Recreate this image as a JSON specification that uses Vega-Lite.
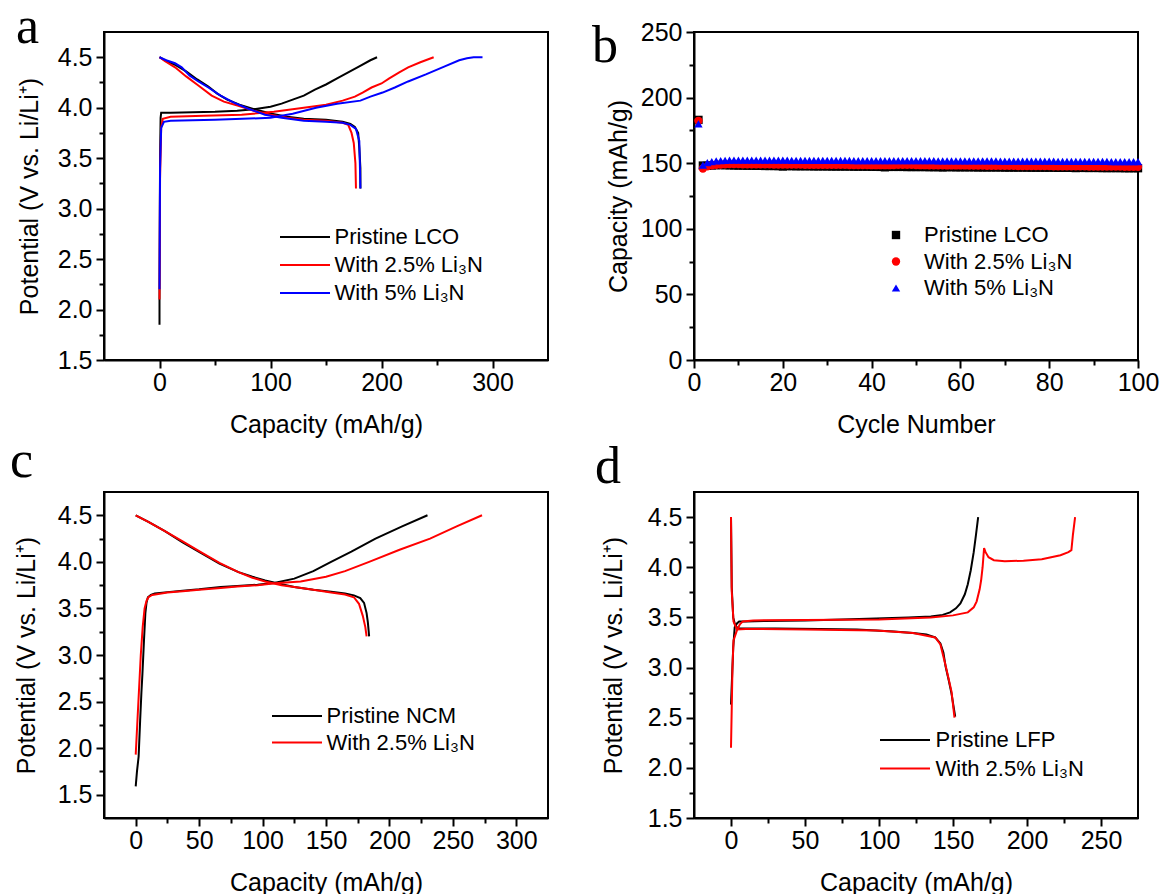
{
"$schema":"https://vega.github.io/schema/vega-lite/v6.json",
"background":"white",
"padding":{"left":9,"top":0,"right":10,"bottom":0},
"bounds":"flush",
"columns":2,
"spacing":{"column":146,"row":132},
"resolve":{"scale":{"x":"independent","y":"independent","color":"independent","shape":"independent"},"legend":{"color":"independent","shape":"independent"}},
"config":{
 "font":"Liberation Sans",
 "view":{"stroke":"#000","strokeWidth":2},
 "axis":{"domainColor":"#000","domainWidth":2,"tickColor":"#000","tickWidth":2,"labelColor":"#000","titleColor":"#000","labelFont":"Liberation Sans","titleFont":"Liberation Sans","labelFontSize":25,"titleFontSize":25,"titleFontWeight":"normal","grid":false,"labelFlush":false,"labelOverlap":false},
 "axisX":{"labelPadding":2,"titlePadding":17},
 "axisY":{"labelPadding":4},
 "legend":{"title":null,"orient":"none","labelFont":"Liberation Sans","labelFontSize":22,"labelColor":"#000"},
 "title":{"font":"Liberation Serif","fontSize":52,"fontWeight":"normal","color":"#000","anchor":"start","frame":"group","offset":0}
},
"concat":[
{
 "title":{"text":"a","dx":-88,"dy":26},
 "width":444,"height":328,
 "data":{"values":[
{"s":"Pristine LCO","k":"c","i":1,"x":0,"y":1.85},{"s":"Pristine LCO","k":"c","i":2,"x":0,"y":2.1},{"s":"Pristine LCO","k":"c","i":3,"x":0.5,"y":3.5},{"s":"Pristine LCO","k":"c","i":4,"x":1,"y":3.9},{"s":"Pristine LCO","k":"c","i":5,"x":1.5,"y":3.95},{"s":"Pristine LCO","k":"c","i":6,"x":10,"y":3.95},{"s":"Pristine LCO","k":"c","i":7,"x":30,"y":3.955},{"s":"Pristine LCO","k":"c","i":8,"x":50,"y":3.96},{"s":"Pristine LCO","k":"c","i":9,"x":70,"y":3.97},{"s":"Pristine LCO","k":"c","i":10,"x":85,"y":3.985},{"s":"Pristine LCO","k":"c","i":11,"x":100,"y":4.01},{"s":"Pristine LCO","k":"c","i":12,"x":110,"y":4.04},{"s":"Pristine LCO","k":"c","i":13,"x":120,"y":4.08},{"s":"Pristine LCO","k":"c","i":14,"x":130,"y":4.12},{"s":"Pristine LCO","k":"c","i":15,"x":140,"y":4.18},{"s":"Pristine LCO","k":"c","i":16,"x":150,"y":4.23},{"s":"Pristine LCO","k":"c","i":17,"x":160,"y":4.29},{"s":"Pristine LCO","k":"c","i":18,"x":170,"y":4.35},{"s":"Pristine LCO","k":"c","i":19,"x":180,"y":4.41},{"s":"Pristine LCO","k":"c","i":20,"x":190,"y":4.47},{"s":"Pristine LCO","k":"c","i":21,"x":196,"y":4.5},
{"s":"Pristine LCO","k":"d","i":1,"x":0,"y":4.5},{"s":"Pristine LCO","k":"d","i":2,"x":5,"y":4.47},{"s":"Pristine LCO","k":"d","i":3,"x":15,"y":4.42},{"s":"Pristine LCO","k":"d","i":4,"x":24,"y":4.36},{"s":"Pristine LCO","k":"d","i":5,"x":34,"y":4.28},{"s":"Pristine LCO","k":"d","i":6,"x":44,"y":4.21},{"s":"Pristine LCO","k":"d","i":7,"x":52,"y":4.14},{"s":"Pristine LCO","k":"d","i":8,"x":61,"y":4.08},{"s":"Pristine LCO","k":"d","i":9,"x":72,"y":4.03},{"s":"Pristine LCO","k":"d","i":10,"x":87,"y":3.98},{"s":"Pristine LCO","k":"d","i":11,"x":101,"y":3.94},{"s":"Pristine LCO","k":"d","i":12,"x":115,"y":3.91},{"s":"Pristine LCO","k":"d","i":13,"x":130,"y":3.89},{"s":"Pristine LCO","k":"d","i":14,"x":150,"y":3.88},{"s":"Pristine LCO","k":"d","i":15,"x":165,"y":3.86},{"s":"Pristine LCO","k":"d","i":16,"x":172,"y":3.84},{"s":"Pristine LCO","k":"d","i":17,"x":176,"y":3.81},{"s":"Pristine LCO","k":"d","i":18,"x":179,"y":3.75},{"s":"Pristine LCO","k":"d","i":19,"x":180,"y":3.6},{"s":"Pristine LCO","k":"d","i":20,"x":181,"y":3.4},{"s":"Pristine LCO","k":"d","i":21,"x":181,"y":3.2},
{"s":"With 2.5% Li₃N","k":"c","i":1,"x":0,"y":2.1},{"s":"With 2.5% Li₃N","k":"c","i":2,"x":0.5,"y":3.3},{"s":"With 2.5% Li₃N","k":"c","i":3,"x":1.5,"y":3.8},{"s":"With 2.5% Li₃N","k":"c","i":4,"x":3,"y":3.89},{"s":"With 2.5% Li₃N","k":"c","i":5,"x":10,"y":3.91},{"s":"With 2.5% Li₃N","k":"c","i":6,"x":40,"y":3.92},{"s":"With 2.5% Li₃N","k":"c","i":7,"x":74,"y":3.93},{"s":"With 2.5% Li₃N","k":"c","i":8,"x":103,"y":3.96},{"s":"With 2.5% Li₃N","k":"c","i":9,"x":130,"y":4.0},{"s":"With 2.5% Li₃N","k":"c","i":10,"x":150,"y":4.03},{"s":"With 2.5% Li₃N","k":"c","i":11,"x":165,"y":4.07},{"s":"With 2.5% Li₃N","k":"c","i":12,"x":176,"y":4.11},{"s":"With 2.5% Li₃N","k":"c","i":13,"x":183,"y":4.15},{"s":"With 2.5% Li₃N","k":"c","i":14,"x":191,"y":4.2},{"s":"With 2.5% Li₃N","k":"c","i":15,"x":200,"y":4.24},{"s":"With 2.5% Li₃N","k":"c","i":16,"x":207,"y":4.29},{"s":"With 2.5% Li₃N","k":"c","i":17,"x":216,"y":4.35},{"s":"With 2.5% Li₃N","k":"c","i":18,"x":224,"y":4.4},{"s":"With 2.5% Li₃N","k":"c","i":19,"x":235,"y":4.45},{"s":"With 2.5% Li₃N","k":"c","i":20,"x":247,"y":4.5},
{"s":"With 2.5% Li₃N","k":"d","i":1,"x":0,"y":4.5},{"s":"With 2.5% Li₃N","k":"d","i":2,"x":5,"y":4.46},{"s":"With 2.5% Li₃N","k":"d","i":3,"x":14,"y":4.4},{"s":"With 2.5% Li₃N","k":"d","i":4,"x":24,"y":4.31},{"s":"With 2.5% Li₃N","k":"d","i":5,"x":35,"y":4.22},{"s":"With 2.5% Li₃N","k":"d","i":6,"x":47,"y":4.12},{"s":"With 2.5% Li₃N","k":"d","i":7,"x":58,"y":4.06},{"s":"With 2.5% Li₃N","k":"d","i":8,"x":71,"y":4.02},{"s":"With 2.5% Li₃N","k":"d","i":9,"x":85,"y":3.97},{"s":"With 2.5% Li₃N","k":"d","i":10,"x":100,"y":3.93},{"s":"With 2.5% Li₃N","k":"d","i":11,"x":115,"y":3.9},{"s":"With 2.5% Li₃N","k":"d","i":12,"x":130,"y":3.88},{"s":"With 2.5% Li₃N","k":"d","i":13,"x":150,"y":3.87},{"s":"With 2.5% Li₃N","k":"d","i":14,"x":165,"y":3.85},{"s":"With 2.5% Li₃N","k":"d","i":15,"x":170,"y":3.83},{"s":"With 2.5% Li₃N","k":"d","i":16,"x":173,"y":3.75},{"s":"With 2.5% Li₃N","k":"d","i":17,"x":175,"y":3.65},{"s":"With 2.5% Li₃N","k":"d","i":18,"x":176.5,"y":3.45},{"s":"With 2.5% Li₃N","k":"d","i":19,"x":177,"y":3.2},
{"s":"With 5% Li₃N","k":"c","i":1,"x":0,"y":2.2},{"s":"With 5% Li₃N","k":"c","i":2,"x":0.5,"y":3.4},{"s":"With 5% Li₃N","k":"c","i":3,"x":1.5,"y":3.8},{"s":"With 5% Li₃N","k":"c","i":4,"x":4,"y":3.86},{"s":"With 5% Li₃N","k":"c","i":5,"x":10,"y":3.87},{"s":"With 5% Li₃N","k":"c","i":6,"x":50,"y":3.88},{"s":"With 5% Li₃N","k":"c","i":7,"x":100,"y":3.9},{"s":"With 5% Li₃N","k":"c","i":8,"x":120,"y":3.94},{"s":"With 5% Li₃N","k":"c","i":9,"x":141,"y":4.0},{"s":"With 5% Li₃N","k":"c","i":10,"x":160,"y":4.04},{"s":"With 5% Li₃N","k":"c","i":11,"x":181,"y":4.07},{"s":"With 5% Li₃N","k":"c","i":12,"x":190,"y":4.11},{"s":"With 5% Li₃N","k":"c","i":13,"x":201,"y":4.15},{"s":"With 5% Li₃N","k":"c","i":14,"x":212,"y":4.2},{"s":"With 5% Li₃N","k":"c","i":15,"x":224,"y":4.26},{"s":"With 5% Li₃N","k":"c","i":16,"x":240,"y":4.33},{"s":"With 5% Li₃N","k":"c","i":17,"x":257,"y":4.41},{"s":"With 5% Li₃N","k":"c","i":18,"x":270,"y":4.47},{"s":"With 5% Li₃N","k":"c","i":19,"x":277,"y":4.49},{"s":"With 5% Li₃N","k":"c","i":20,"x":283,"y":4.5},{"s":"With 5% Li₃N","k":"c","i":21,"x":291,"y":4.5},
{"s":"With 5% Li₃N","k":"d","i":1,"x":0,"y":4.5},{"s":"With 5% Li₃N","k":"d","i":2,"x":6,"y":4.47},{"s":"With 5% Li₃N","k":"d","i":3,"x":14,"y":4.44},{"s":"With 5% Li₃N","k":"d","i":4,"x":20,"y":4.4},{"s":"With 5% Li₃N","k":"d","i":5,"x":27,"y":4.32},{"s":"With 5% Li₃N","k":"d","i":6,"x":35,"y":4.26},{"s":"With 5% Li₃N","k":"d","i":7,"x":44,"y":4.2},{"s":"With 5% Li₃N","k":"d","i":8,"x":55,"y":4.12},{"s":"With 5% Li₃N","k":"d","i":9,"x":67,"y":4.05},{"s":"With 5% Li₃N","k":"d","i":10,"x":80,"y":3.99},{"s":"With 5% Li₃N","k":"d","i":11,"x":95,"y":3.93},{"s":"With 5% Li₃N","k":"d","i":12,"x":110,"y":3.9},{"s":"With 5% Li₃N","k":"d","i":13,"x":130,"y":3.87},{"s":"With 5% Li₃N","k":"d","i":14,"x":150,"y":3.86},{"s":"With 5% Li₃N","k":"d","i":15,"x":165,"y":3.85},{"s":"With 5% Li₃N","k":"d","i":16,"x":172,"y":3.83},{"s":"With 5% Li₃N","k":"d","i":17,"x":177,"y":3.79},{"s":"With 5% Li₃N","k":"d","i":18,"x":180,"y":3.67},{"s":"With 5% Li₃N","k":"d","i":19,"x":180.5,"y":3.45},{"s":"With 5% Li₃N","k":"d","i":20,"x":181,"y":3.2}
 ]},
 "mark":{"type":"line","strokeWidth":2},
 "encoding":{
  "x":{"field":"x","type":"quantitative","scale":{"domain":[-50,350],"nice":false,"zero":false},
   "axis":{"title":"Capacity (mAh/g)","values":[0,50,100,150,200,250,300],"labelExpr":"datum.value % 100 === 0 ? datum.label : ''","tickSize":{"condition":{"test":"datum.value % 100 === 0","value":8},"value":5}}},
  "y":{"field":"y","type":"quantitative","scale":{"domain":[1.5,4.75],"nice":false,"zero":false},
   "axis":{"title":"Potential (V vs. Li/Li⁺)","titlePadding":15,"values":[1.5,1.75,2,2.25,2.5,2.75,3,3.25,3.5,3.75,4,4.25,4.5],"format":".1f","labelExpr":"abs(datum.value*2-round(datum.value*2)) < 0.01 ? datum.label : ''","tickSize":{"condition":{"test":"abs(datum.value*2-round(datum.value*2)) < 0.01","value":8},"value":5}}},
  "color":{"field":"s","type":"nominal","scale":{"domain":["Pristine LCO","With 2.5% Li₃N","With 5% Li₃N"],"range":["#000000","#ff0000","#0000ff"]},
   "legend":{"legendX":176,"legendY":191.5,"symbolType":"M-2,0L2,0","symbolSize":625,"symbolStrokeWidth":2,"symbolOffset":11.5,"labelOffset":16,"rowPadding":3}},
  "detail":{"field":"k"},
  "order":{"field":"i","type":"quantitative"}
 }
},
{
 "title":{"text":"b","dx":-102,"dy":57},
 "width":444,"height":328,
 "data":{"values":[
{"s":"Pristine LCO","n":1,"c":183},{"s":"Pristine LCO","n":2,"c":148.2},{"s":"Pristine LCO","n":3,"c":148.0},{"s":"Pristine LCO","n":4,"c":148.3},{"s":"Pristine LCO","n":5,"c":148.5},{"s":"Pristine LCO","n":6,"c":148.6},{"s":"Pristine LCO","n":7,"c":148.5},{"s":"Pristine LCO","n":8,"c":148.4},{"s":"Pristine LCO","n":9,"c":148.3},{"s":"Pristine LCO","n":10,"c":148.2},
{"s":"Pristine LCO","n":11,"c":148.2},{"s":"Pristine LCO","n":12,"c":148.1},{"s":"Pristine LCO","n":13,"c":148.1},{"s":"Pristine LCO","n":14,"c":148.0},{"s":"Pristine LCO","n":15,"c":148.0},{"s":"Pristine LCO","n":16,"c":147.9},{"s":"Pristine LCO","n":17,"c":147.9},{"s":"Pristine LCO","n":18,"c":147.9},{"s":"Pristine LCO","n":19,"c":147.8},{"s":"Pristine LCO","n":20,"c":147.5},
{"s":"Pristine LCO","n":21,"c":147.8},{"s":"Pristine LCO","n":22,"c":147.8},{"s":"Pristine LCO","n":23,"c":147.7},{"s":"Pristine LCO","n":24,"c":147.7},{"s":"Pristine LCO","n":25,"c":147.7},{"s":"Pristine LCO","n":26,"c":147.7},{"s":"Pristine LCO","n":27,"c":147.6},{"s":"Pristine LCO","n":28,"c":147.6},{"s":"Pristine LCO","n":29,"c":147.6},{"s":"Pristine LCO","n":30,"c":147.6},
{"s":"Pristine LCO","n":31,"c":147.5},{"s":"Pristine LCO","n":32,"c":147.5},{"s":"Pristine LCO","n":33,"c":147.5},{"s":"Pristine LCO","n":34,"c":147.5},{"s":"Pristine LCO","n":35,"c":147.5},{"s":"Pristine LCO","n":36,"c":147.4},{"s":"Pristine LCO","n":37,"c":147.4},{"s":"Pristine LCO","n":38,"c":147.4},{"s":"Pristine LCO","n":39,"c":147.4},{"s":"Pristine LCO","n":40,"c":147.3},
{"s":"Pristine LCO","n":41,"c":147.3},{"s":"Pristine LCO","n":42,"c":147.2},{"s":"Pristine LCO","n":43,"c":146.9},{"s":"Pristine LCO","n":44,"c":147.2},{"s":"Pristine LCO","n":45,"c":147.2},{"s":"Pristine LCO","n":46,"c":147.2},{"s":"Pristine LCO","n":47,"c":147.2},{"s":"Pristine LCO","n":48,"c":147.1},{"s":"Pristine LCO","n":49,"c":147.1},{"s":"Pristine LCO","n":50,"c":147.1},
{"s":"Pristine LCO","n":51,"c":147.1},{"s":"Pristine LCO","n":52,"c":147.1},{"s":"Pristine LCO","n":53,"c":147.0},{"s":"Pristine LCO","n":54,"c":147.0},{"s":"Pristine LCO","n":55,"c":147.0},{"s":"Pristine LCO","n":56,"c":146.8},{"s":"Pristine LCO","n":57,"c":147.0},{"s":"Pristine LCO","n":58,"c":147.0},{"s":"Pristine LCO","n":59,"c":146.9},{"s":"Pristine LCO","n":60,"c":146.9},
{"s":"Pristine LCO","n":61,"c":146.9},{"s":"Pristine LCO","n":62,"c":146.9},{"s":"Pristine LCO","n":63,"c":146.9},{"s":"Pristine LCO","n":64,"c":146.8},{"s":"Pristine LCO","n":65,"c":146.8},{"s":"Pristine LCO","n":66,"c":146.8},{"s":"Pristine LCO","n":67,"c":146.8},{"s":"Pristine LCO","n":68,"c":146.8},{"s":"Pristine LCO","n":69,"c":146.8},{"s":"Pristine LCO","n":70,"c":146.7},
{"s":"Pristine LCO","n":71,"c":146.7},{"s":"Pristine LCO","n":72,"c":146.7},{"s":"Pristine LCO","n":73,"c":146.7},{"s":"Pristine LCO","n":74,"c":146.7},{"s":"Pristine LCO","n":75,"c":146.7},{"s":"Pristine LCO","n":76,"c":146.6},{"s":"Pristine LCO","n":77,"c":146.6},{"s":"Pristine LCO","n":78,"c":146.6},{"s":"Pristine LCO","n":79,"c":146.6},{"s":"Pristine LCO","n":80,"c":146.6},
{"s":"Pristine LCO","n":81,"c":146.6},{"s":"Pristine LCO","n":82,"c":146.5},{"s":"Pristine LCO","n":83,"c":146.5},{"s":"Pristine LCO","n":84,"c":146.5},{"s":"Pristine LCO","n":85,"c":146.5},{"s":"Pristine LCO","n":86,"c":146.3},{"s":"Pristine LCO","n":87,"c":146.5},{"s":"Pristine LCO","n":88,"c":146.4},{"s":"Pristine LCO","n":89,"c":146.4},{"s":"Pristine LCO","n":90,"c":146.4},
{"s":"Pristine LCO","n":91,"c":146.4},{"s":"Pristine LCO","n":92,"c":146.3},{"s":"Pristine LCO","n":93,"c":146.3},{"s":"Pristine LCO","n":94,"c":146.3},{"s":"Pristine LCO","n":95,"c":146.3},{"s":"Pristine LCO","n":96,"c":146.3},{"s":"Pristine LCO","n":97,"c":146.2},{"s":"Pristine LCO","n":98,"c":146.2},{"s":"Pristine LCO","n":99,"c":146.2},{"s":"Pristine LCO","n":100,"c":146.2},
{"s":"With 2.5% Li₃N","n":1,"c":182.3},{"s":"With 2.5% Li₃N","n":2,"c":146.0},{"s":"With 2.5% Li₃N","n":3,"c":147.6},{"s":"With 2.5% Li₃N","n":4,"c":148.4},{"s":"With 2.5% Li₃N","n":5,"c":148.8},{"s":"With 2.5% Li₃N","n":6,"c":149.0},{"s":"With 2.5% Li₃N","n":7,"c":149.2},{"s":"With 2.5% Li₃N","n":8,"c":149.3},{"s":"With 2.5% Li₃N","n":9,"c":149.3},{"s":"With 2.5% Li₃N","n":10,"c":149.3},
{"s":"With 2.5% Li₃N","n":11,"c":149.2},{"s":"With 2.5% Li₃N","n":12,"c":149.2},{"s":"With 2.5% Li₃N","n":13,"c":149.2},{"s":"With 2.5% Li₃N","n":14,"c":149.2},{"s":"With 2.5% Li₃N","n":15,"c":149.1},{"s":"With 2.5% Li₃N","n":16,"c":149.1},{"s":"With 2.5% Li₃N","n":17,"c":149.1},{"s":"With 2.5% Li₃N","n":18,"c":149.0},{"s":"With 2.5% Li₃N","n":19,"c":149.0},{"s":"With 2.5% Li₃N","n":20,"c":149.0},
{"s":"With 2.5% Li₃N","n":21,"c":148.9},{"s":"With 2.5% Li₃N","n":22,"c":148.9},{"s":"With 2.5% Li₃N","n":23,"c":148.9},{"s":"With 2.5% Li₃N","n":24,"c":148.9},{"s":"With 2.5% Li₃N","n":25,"c":148.8},{"s":"With 2.5% Li₃N","n":26,"c":148.8},{"s":"With 2.5% Li₃N","n":27,"c":148.8},{"s":"With 2.5% Li₃N","n":28,"c":148.8},{"s":"With 2.5% Li₃N","n":29,"c":148.8},{"s":"With 2.5% Li₃N","n":30,"c":148.7},
{"s":"With 2.5% Li₃N","n":31,"c":148.7},{"s":"With 2.5% Li₃N","n":32,"c":148.7},{"s":"With 2.5% Li₃N","n":33,"c":148.7},{"s":"With 2.5% Li₃N","n":34,"c":148.7},{"s":"With 2.5% Li₃N","n":35,"c":148.6},{"s":"With 2.5% Li₃N","n":36,"c":148.6},{"s":"With 2.5% Li₃N","n":37,"c":148.6},{"s":"With 2.5% Li₃N","n":38,"c":148.6},{"s":"With 2.5% Li₃N","n":39,"c":148.6},{"s":"With 2.5% Li₃N","n":40,"c":148.5},
{"s":"With 2.5% Li₃N","n":41,"c":148.5},{"s":"With 2.5% Li₃N","n":42,"c":148.5},{"s":"With 2.5% Li₃N","n":43,"c":148.5},{"s":"With 2.5% Li₃N","n":44,"c":148.5},{"s":"With 2.5% Li₃N","n":45,"c":148.6},{"s":"With 2.5% Li₃N","n":46,"c":148.7},{"s":"With 2.5% Li₃N","n":47,"c":148.8},{"s":"With 2.5% Li₃N","n":48,"c":148.8},{"s":"With 2.5% Li₃N","n":49,"c":148.7},{"s":"With 2.5% Li₃N","n":50,"c":148.6},
{"s":"With 2.5% Li₃N","n":51,"c":148.5},{"s":"With 2.5% Li₃N","n":52,"c":148.5},{"s":"With 2.5% Li₃N","n":53,"c":148.4},{"s":"With 2.5% Li₃N","n":54,"c":148.4},{"s":"With 2.5% Li₃N","n":55,"c":148.4},{"s":"With 2.5% Li₃N","n":56,"c":148.4},{"s":"With 2.5% Li₃N","n":57,"c":148.3},{"s":"With 2.5% Li₃N","n":58,"c":148.3},{"s":"With 2.5% Li₃N","n":59,"c":148.3},{"s":"With 2.5% Li₃N","n":60,"c":148.3},
{"s":"With 2.5% Li₃N","n":61,"c":148.3},{"s":"With 2.5% Li₃N","n":62,"c":148.2},{"s":"With 2.5% Li₃N","n":63,"c":148.2},{"s":"With 2.5% Li₃N","n":64,"c":148.2},{"s":"With 2.5% Li₃N","n":65,"c":148.2},{"s":"With 2.5% Li₃N","n":66,"c":148.1},{"s":"With 2.5% Li₃N","n":67,"c":148.1},{"s":"With 2.5% Li₃N","n":68,"c":148.1},{"s":"With 2.5% Li₃N","n":69,"c":148.1},{"s":"With 2.5% Li₃N","n":70,"c":148.0},
{"s":"With 2.5% Li₃N","n":71,"c":148.0},{"s":"With 2.5% Li₃N","n":72,"c":148.0},{"s":"With 2.5% Li₃N","n":73,"c":147.9},{"s":"With 2.5% Li₃N","n":74,"c":147.9},{"s":"With 2.5% Li₃N","n":75,"c":147.9},{"s":"With 2.5% Li₃N","n":76,"c":147.9},{"s":"With 2.5% Li₃N","n":77,"c":147.8},{"s":"With 2.5% Li₃N","n":78,"c":147.8},{"s":"With 2.5% Li₃N","n":79,"c":147.8},{"s":"With 2.5% Li₃N","n":80,"c":147.8},
{"s":"With 2.5% Li₃N","n":81,"c":147.7},{"s":"With 2.5% Li₃N","n":82,"c":147.7},{"s":"With 2.5% Li₃N","n":83,"c":147.7},{"s":"With 2.5% Li₃N","n":84,"c":147.7},{"s":"With 2.5% Li₃N","n":85,"c":147.6},{"s":"With 2.5% Li₃N","n":86,"c":147.6},{"s":"With 2.5% Li₃N","n":87,"c":147.6},{"s":"With 2.5% Li₃N","n":88,"c":147.6},{"s":"With 2.5% Li₃N","n":89,"c":147.5},{"s":"With 2.5% Li₃N","n":90,"c":147.5},
{"s":"With 2.5% Li₃N","n":91,"c":147.5},{"s":"With 2.5% Li₃N","n":92,"c":147.5},{"s":"With 2.5% Li₃N","n":93,"c":147.4},{"s":"With 2.5% Li₃N","n":94,"c":147.4},{"s":"With 2.5% Li₃N","n":95,"c":147.4},{"s":"With 2.5% Li₃N","n":96,"c":147.4},{"s":"With 2.5% Li₃N","n":97,"c":147.3},{"s":"With 2.5% Li₃N","n":98,"c":147.3},{"s":"With 2.5% Li₃N","n":99,"c":147.3},{"s":"With 2.5% Li₃N","n":100,"c":147.3},
{"s":"With 5% Li₃N","n":1,"c":180.0},{"s":"With 5% Li₃N","n":2,"c":148.5},{"s":"With 5% Li₃N","n":3,"c":150.4},{"s":"With 5% Li₃N","n":4,"c":151.2},{"s":"With 5% Li₃N","n":5,"c":151.7},{"s":"With 5% Li₃N","n":6,"c":152.0},{"s":"With 5% Li₃N","n":7,"c":152.2},{"s":"With 5% Li₃N","n":8,"c":152.3},{"s":"With 5% Li₃N","n":9,"c":152.4},{"s":"With 5% Li₃N","n":10,"c":152.4},
{"s":"With 5% Li₃N","n":11,"c":152.4},{"s":"With 5% Li₃N","n":12,"c":152.4},{"s":"With 5% Li₃N","n":13,"c":152.4},{"s":"With 5% Li₃N","n":14,"c":152.4},{"s":"With 5% Li₃N","n":15,"c":152.3},{"s":"With 5% Li₃N","n":16,"c":152.3},{"s":"With 5% Li₃N","n":17,"c":152.3},{"s":"With 5% Li₃N","n":18,"c":152.3},{"s":"With 5% Li₃N","n":19,"c":152.3},{"s":"With 5% Li₃N","n":20,"c":152.3},
{"s":"With 5% Li₃N","n":21,"c":152.3},{"s":"With 5% Li₃N","n":22,"c":152.2},{"s":"With 5% Li₃N","n":23,"c":152.2},{"s":"With 5% Li₃N","n":24,"c":152.2},{"s":"With 5% Li₃N","n":25,"c":152.2},{"s":"With 5% Li₃N","n":26,"c":152.2},{"s":"With 5% Li₃N","n":27,"c":152.2},{"s":"With 5% Li₃N","n":28,"c":152.2},{"s":"With 5% Li₃N","n":29,"c":152.1},{"s":"With 5% Li₃N","n":30,"c":152.1},
{"s":"With 5% Li₃N","n":31,"c":152.1},{"s":"With 5% Li₃N","n":32,"c":152.1},{"s":"With 5% Li₃N","n":33,"c":152.1},{"s":"With 5% Li₃N","n":34,"c":152.1},{"s":"With 5% Li₃N","n":35,"c":152.1},{"s":"With 5% Li₃N","n":36,"c":152.0},{"s":"With 5% Li₃N","n":37,"c":152.0},{"s":"With 5% Li₃N","n":38,"c":152.0},{"s":"With 5% Li₃N","n":39,"c":152.0},{"s":"With 5% Li₃N","n":40,"c":152.0},
{"s":"With 5% Li₃N","n":41,"c":152.0},{"s":"With 5% Li₃N","n":42,"c":151.9},{"s":"With 5% Li₃N","n":43,"c":151.9},{"s":"With 5% Li₃N","n":44,"c":151.9},{"s":"With 5% Li₃N","n":45,"c":151.9},{"s":"With 5% Li₃N","n":46,"c":151.9},{"s":"With 5% Li₃N","n":47,"c":151.9},{"s":"With 5% Li₃N","n":48,"c":152.0},{"s":"With 5% Li₃N","n":49,"c":152.0},{"s":"With 5% Li₃N","n":50,"c":152.0},
{"s":"With 5% Li₃N","n":51,"c":151.9},{"s":"With 5% Li₃N","n":52,"c":151.9},{"s":"With 5% Li₃N","n":53,"c":151.9},{"s":"With 5% Li₃N","n":54,"c":151.9},{"s":"With 5% Li₃N","n":55,"c":151.8},{"s":"With 5% Li₃N","n":56,"c":151.8},{"s":"With 5% Li₃N","n":57,"c":151.8},{"s":"With 5% Li₃N","n":58,"c":151.8},{"s":"With 5% Li₃N","n":59,"c":151.8},{"s":"With 5% Li₃N","n":60,"c":151.8},
{"s":"With 5% Li₃N","n":61,"c":151.8},{"s":"With 5% Li₃N","n":62,"c":151.7},{"s":"With 5% Li₃N","n":63,"c":151.7},{"s":"With 5% Li₃N","n":64,"c":151.7},{"s":"With 5% Li₃N","n":65,"c":151.7},{"s":"With 5% Li₃N","n":66,"c":151.7},{"s":"With 5% Li₃N","n":67,"c":151.7},{"s":"With 5% Li₃N","n":68,"c":151.7},{"s":"With 5% Li₃N","n":69,"c":151.6},{"s":"With 5% Li₃N","n":70,"c":151.6},
{"s":"With 5% Li₃N","n":71,"c":151.6},{"s":"With 5% Li₃N","n":72,"c":151.6},{"s":"With 5% Li₃N","n":73,"c":151.6},{"s":"With 5% Li₃N","n":74,"c":151.6},{"s":"With 5% Li₃N","n":75,"c":151.5},{"s":"With 5% Li₃N","n":76,"c":151.5},{"s":"With 5% Li₃N","n":77,"c":151.5},{"s":"With 5% Li₃N","n":78,"c":151.5},{"s":"With 5% Li₃N","n":79,"c":151.5},{"s":"With 5% Li₃N","n":80,"c":151.5},
{"s":"With 5% Li₃N","n":81,"c":151.5},{"s":"With 5% Li₃N","n":82,"c":151.4},{"s":"With 5% Li₃N","n":83,"c":151.4},{"s":"With 5% Li₃N","n":84,"c":151.4},{"s":"With 5% Li₃N","n":85,"c":151.4},{"s":"With 5% Li₃N","n":86,"c":151.4},{"s":"With 5% Li₃N","n":87,"c":151.4},{"s":"With 5% Li₃N","n":88,"c":151.3},{"s":"With 5% Li₃N","n":89,"c":151.3},{"s":"With 5% Li₃N","n":90,"c":151.3},
{"s":"With 5% Li₃N","n":91,"c":151.3},{"s":"With 5% Li₃N","n":92,"c":151.3},{"s":"With 5% Li₃N","n":93,"c":151.3},{"s":"With 5% Li₃N","n":94,"c":151.2},{"s":"With 5% Li₃N","n":95,"c":151.2},{"s":"With 5% Li₃N","n":96,"c":151.2},{"s":"With 5% Li₃N","n":97,"c":151.2},{"s":"With 5% Li₃N","n":98,"c":151.2},{"s":"With 5% Li₃N","n":99,"c":151.2},{"s":"With 5% Li₃N","n":100,"c":151.2}
 ]},
 "mark":{"type":"point","filled":true,"size":70,"opacity":1},
 "encoding":{
  "x":{"field":"n","type":"quantitative","scale":{"domain":[0,100],"nice":false,"zero":false},
   "axis":{"title":"Cycle Number","values":[0,10,20,30,40,50,60,70,80,90,100],"labelExpr":"datum.value % 20 === 0 ? datum.label : ''","tickSize":{"condition":{"test":"datum.value % 20 === 0","value":8},"value":5}}},
  "y":{"field":"c","type":"quantitative","scale":{"domain":[0,250],"nice":false,"zero":false},
   "axis":{"title":"Capacity (mAh/g)","titlePadding":9,"values":[0,25,50,75,100,125,150,175,200,225,250],"labelExpr":"datum.value % 50 === 0 ? datum.label : ''","tickSize":{"condition":{"test":"datum.value % 50 === 0","value":8},"value":5}}},
  "color":{"field":"s","type":"nominal","scale":{"domain":["Pristine LCO","With 2.5% Li₃N","With 5% Li₃N"],"range":["#000000","#ff0000","#0000ff"]},
   "legend":{"legendX":191,"legendY":192,"symbolSize":70,"labelOffset":17,"rowPadding":4.5}},
  "shape":{"field":"s","type":"nominal","scale":{"domain":["Pristine LCO","With 2.5% Li₃N","With 5% Li₃N"],"range":["square","circle","triangle-up"]}}
 }
},
{
 "title":{"text":"c","dx":-94,"dy":0},
 "width":444,"height":326,
 "data":{"values":[
{"s":"Pristine NCM","k":"c","i":1,"x":0,"y":1.59},{"s":"Pristine NCM","k":"c","i":2,"x":1,"y":1.75},{"s":"Pristine NCM","k":"c","i":3,"x":2.3,"y":1.91},{"s":"Pristine NCM","k":"c","i":4,"x":3.5,"y":2.3},{"s":"Pristine NCM","k":"c","i":5,"x":4.5,"y":2.6},{"s":"Pristine NCM","k":"c","i":6,"x":5.3,"y":2.8},{"s":"Pristine NCM","k":"c","i":7,"x":6.5,"y":3.15},{"s":"Pristine NCM","k":"c","i":8,"x":7.6,"y":3.45},{"s":"Pristine NCM","k":"c","i":9,"x":8.5,"y":3.56},{"s":"Pristine NCM","k":"c","i":10,"x":9.6,"y":3.62},{"s":"Pristine NCM","k":"c","i":11,"x":12,"y":3.645},{"s":"Pristine NCM","k":"c","i":12,"x":15,"y":3.66},{"s":"Pristine NCM","k":"c","i":13,"x":25,"y":3.675},{"s":"Pristine NCM","k":"c","i":14,"x":37,"y":3.69},{"s":"Pristine NCM","k":"c","i":15,"x":50,"y":3.705},{"s":"Pristine NCM","k":"c","i":16,"x":67,"y":3.73},{"s":"Pristine NCM","k":"c","i":17,"x":80,"y":3.74},{"s":"Pristine NCM","k":"c","i":18,"x":96,"y":3.755},{"s":"Pristine NCM","k":"c","i":19,"x":110,"y":3.775},{"s":"Pristine NCM","k":"c","i":20,"x":125,"y":3.82},{"s":"Pristine NCM","k":"c","i":21,"x":140,"y":3.9},{"s":"Pristine NCM","k":"c","i":22,"x":154,"y":4.0},{"s":"Pristine NCM","k":"c","i":23,"x":170,"y":4.11},{"s":"Pristine NCM","k":"c","i":24,"x":189,"y":4.25},{"s":"Pristine NCM","k":"c","i":25,"x":210,"y":4.38},{"s":"Pristine NCM","k":"c","i":26,"x":230,"y":4.5},
{"s":"Pristine NCM","k":"d","i":1,"x":0,"y":4.5},{"s":"Pristine NCM","k":"d","i":2,"x":10,"y":4.43},{"s":"Pristine NCM","k":"d","i":3,"x":23,"y":4.33},{"s":"Pristine NCM","k":"d","i":4,"x":37,"y":4.21},{"s":"Pristine NCM","k":"d","i":5,"x":52,"y":4.09},{"s":"Pristine NCM","k":"d","i":6,"x":66,"y":3.98},{"s":"Pristine NCM","k":"d","i":7,"x":81,"y":3.89},{"s":"Pristine NCM","k":"d","i":8,"x":92,"y":3.84},{"s":"Pristine NCM","k":"d","i":9,"x":102,"y":3.8},{"s":"Pristine NCM","k":"d","i":10,"x":115,"y":3.76},{"s":"Pristine NCM","k":"d","i":11,"x":125,"y":3.73},{"s":"Pristine NCM","k":"d","i":12,"x":140,"y":3.7},{"s":"Pristine NCM","k":"d","i":13,"x":154,"y":3.68},{"s":"Pristine NCM","k":"d","i":14,"x":165,"y":3.66},{"s":"Pristine NCM","k":"d","i":15,"x":172,"y":3.64},{"s":"Pristine NCM","k":"d","i":16,"x":177,"y":3.61},{"s":"Pristine NCM","k":"d","i":17,"x":180,"y":3.56},{"s":"Pristine NCM","k":"d","i":18,"x":182,"y":3.45},{"s":"Pristine NCM","k":"d","i":19,"x":183,"y":3.35},{"s":"Pristine NCM","k":"d","i":20,"x":184,"y":3.2},
{"s":"With 2.5% Li₃N","k":"c","i":1,"x":0,"y":1.93},{"s":"With 2.5% Li₃N","k":"c","i":2,"x":1,"y":2.2},{"s":"With 2.5% Li₃N","k":"c","i":3,"x":2.5,"y":2.6},{"s":"With 2.5% Li₃N","k":"c","i":4,"x":4,"y":3.0},{"s":"With 2.5% Li₃N","k":"c","i":5,"x":5.5,"y":3.3},{"s":"With 2.5% Li₃N","k":"c","i":6,"x":7,"y":3.5},{"s":"With 2.5% Li₃N","k":"c","i":7,"x":8.5,"y":3.58},{"s":"With 2.5% Li₃N","k":"c","i":8,"x":10,"y":3.62},{"s":"With 2.5% Li₃N","k":"c","i":9,"x":13,"y":3.645},{"s":"With 2.5% Li₃N","k":"c","i":10,"x":25,"y":3.67},{"s":"With 2.5% Li₃N","k":"c","i":11,"x":37,"y":3.685},{"s":"With 2.5% Li₃N","k":"c","i":12,"x":50,"y":3.7},{"s":"With 2.5% Li₃N","k":"c","i":13,"x":67,"y":3.72},{"s":"With 2.5% Li₃N","k":"c","i":14,"x":80,"y":3.735},{"s":"With 2.5% Li₃N","k":"c","i":15,"x":96,"y":3.75},{"s":"With 2.5% Li₃N","k":"c","i":16,"x":110,"y":3.77},{"s":"With 2.5% Li₃N","k":"c","i":17,"x":130,"y":3.79},{"s":"With 2.5% Li₃N","k":"c","i":18,"x":150,"y":3.84},{"s":"With 2.5% Li₃N","k":"c","i":19,"x":165,"y":3.9},{"s":"With 2.5% Li₃N","k":"c","i":20,"x":184,"y":4.0},{"s":"With 2.5% Li₃N","k":"c","i":21,"x":208,"y":4.13},{"s":"With 2.5% Li₃N","k":"c","i":22,"x":232,"y":4.25},{"s":"With 2.5% Li₃N","k":"c","i":23,"x":253,"y":4.38},{"s":"With 2.5% Li₃N","k":"c","i":24,"x":273,"y":4.5},
{"s":"With 2.5% Li₃N","k":"d","i":1,"x":0,"y":4.5},{"s":"With 2.5% Li₃N","k":"d","i":2,"x":10,"y":4.43},{"s":"With 2.5% Li₃N","k":"d","i":3,"x":23,"y":4.33},{"s":"With 2.5% Li₃N","k":"d","i":4,"x":37,"y":4.22},{"s":"With 2.5% Li₃N","k":"d","i":5,"x":52,"y":4.1},{"s":"With 2.5% Li₃N","k":"d","i":6,"x":66,"y":3.99},{"s":"With 2.5% Li₃N","k":"d","i":7,"x":81,"y":3.89},{"s":"With 2.5% Li₃N","k":"d","i":8,"x":92,"y":3.83},{"s":"With 2.5% Li₃N","k":"d","i":9,"x":102,"y":3.79},{"s":"With 2.5% Li₃N","k":"d","i":10,"x":115,"y":3.75},{"s":"With 2.5% Li₃N","k":"d","i":11,"x":125,"y":3.73},{"s":"With 2.5% Li₃N","k":"d","i":12,"x":140,"y":3.7},{"s":"With 2.5% Li₃N","k":"d","i":13,"x":154,"y":3.67},{"s":"With 2.5% Li₃N","k":"d","i":14,"x":165,"y":3.65},{"s":"With 2.5% Li₃N","k":"d","i":15,"x":172,"y":3.62},{"s":"With 2.5% Li₃N","k":"d","i":16,"x":176,"y":3.55},{"s":"With 2.5% Li₃N","k":"d","i":17,"x":179,"y":3.42},{"s":"With 2.5% Li₃N","k":"d","i":18,"x":181,"y":3.3},{"s":"With 2.5% Li₃N","k":"d","i":19,"x":182,"y":3.2}
 ]},
 "mark":{"type":"line","strokeWidth":2},
 "encoding":{
  "x":{"field":"x","type":"quantitative","scale":{"domain":[-25,325],"nice":false,"zero":false},
   "axis":{"title":"Capacity (mAh/g)","values":[0,25,50,75,100,125,150,175,200,225,250,275,300],"labelExpr":"datum.value % 50 === 0 ? datum.label : ''","tickSize":{"condition":{"test":"datum.value % 50 === 0","value":8},"value":5}}},
  "y":{"field":"y","type":"quantitative","scale":{"domain":[1.25,4.75],"nice":false,"zero":false},
   "axis":{"title":"Potential (V vs. Li/Li⁺)","titlePadding":18,"values":[1.5,1.75,2,2.25,2.5,2.75,3,3.25,3.5,3.75,4,4.25,4.5],"format":".1f","labelExpr":"abs(datum.value*2-round(datum.value*2)) < 0.01 ? datum.label : ''","tickSize":{"condition":{"test":"abs(datum.value*2-round(datum.value*2)) < 0.01","value":8},"value":5}}},
  "color":{"field":"s","type":"nominal","scale":{"domain":["Pristine NCM","With 2.5% Li₃N"],"range":["#000000","#ff0000"]},
   "legend":{"legendX":168,"legendY":210.5,"symbolType":"M-2,0L2,0","symbolSize":625,"symbolStrokeWidth":2,"symbolOffset":11.5,"labelOffset":16,"rowPadding":1.5}},
  "detail":{"field":"k"},
  "order":{"field":"i","type":"quantitative"}
 }
},
{
 "title":{"text":"d","dx":-99,"dy":6},
 "width":444,"height":326,
 "data":{"values":[
{"s":"Pristine LFP","k":"c","i":1,"x":0,"y":2.63},{"s":"Pristine LFP","k":"c","i":2,"x":0.7,"y":2.9},{"s":"Pristine LFP","k":"c","i":3,"x":1.5,"y":3.2},{"s":"Pristine LFP","k":"c","i":4,"x":2.5,"y":3.4},{"s":"Pristine LFP","k":"c","i":5,"x":4,"y":3.44},{"s":"Pristine LFP","k":"c","i":6,"x":5.5,"y":3.46},{"s":"Pristine LFP","k":"c","i":7,"x":10,"y":3.46},{"s":"Pristine LFP","k":"c","i":8,"x":23,"y":3.465},{"s":"Pristine LFP","k":"c","i":9,"x":50,"y":3.47},{"s":"Pristine LFP","k":"c","i":10,"x":75,"y":3.48},{"s":"Pristine LFP","k":"c","i":11,"x":98,"y":3.49},{"s":"Pristine LFP","k":"c","i":12,"x":120,"y":3.5},{"s":"Pristine LFP","k":"c","i":13,"x":135,"y":3.51},{"s":"Pristine LFP","k":"c","i":14,"x":143,"y":3.525},{"s":"Pristine LFP","k":"c","i":15,"x":148,"y":3.55},{"s":"Pristine LFP","k":"c","i":16,"x":152,"y":3.59},{"s":"Pristine LFP","k":"c","i":17,"x":155,"y":3.64},{"s":"Pristine LFP","k":"c","i":18,"x":158,"y":3.73},{"s":"Pristine LFP","k":"c","i":19,"x":160,"y":3.83},{"s":"Pristine LFP","k":"c","i":20,"x":162,"y":3.97},{"s":"Pristine LFP","k":"c","i":21,"x":164,"y":4.15},{"s":"Pristine LFP","k":"c","i":22,"x":165.5,"y":4.32},{"s":"Pristine LFP","k":"c","i":23,"x":167,"y":4.5},
{"s":"Pristine LFP","k":"d","i":1,"x":0,"y":4.5},{"s":"Pristine LFP","k":"d","i":2,"x":0.5,"y":3.8},{"s":"Pristine LFP","k":"d","i":3,"x":1.5,"y":3.5},{"s":"Pristine LFP","k":"d","i":4,"x":3,"y":3.41},{"s":"Pristine LFP","k":"d","i":5,"x":5.5,"y":3.39},{"s":"Pristine LFP","k":"d","i":6,"x":30,"y":3.39},{"s":"Pristine LFP","k":"d","i":7,"x":60,"y":3.385},{"s":"Pristine LFP","k":"d","i":8,"x":85,"y":3.38},{"s":"Pristine LFP","k":"d","i":9,"x":98,"y":3.37},{"s":"Pristine LFP","k":"d","i":10,"x":110,"y":3.36},{"s":"Pristine LFP","k":"d","i":11,"x":123,"y":3.345},{"s":"Pristine LFP","k":"d","i":12,"x":132,"y":3.33},{"s":"Pristine LFP","k":"d","i":13,"x":138,"y":3.3},{"s":"Pristine LFP","k":"d","i":14,"x":141.5,"y":3.24},{"s":"Pristine LFP","k":"d","i":15,"x":143.5,"y":3.15},{"s":"Pristine LFP","k":"d","i":16,"x":145,"y":3.01},{"s":"Pristine LFP","k":"d","i":17,"x":147,"y":2.88},{"s":"Pristine LFP","k":"d","i":18,"x":149,"y":2.74},{"s":"Pristine LFP","k":"d","i":19,"x":150.5,"y":2.6},{"s":"Pristine LFP","k":"d","i":20,"x":151.5,"y":2.51},
{"s":"With 2.5% Li₃N","k":"c","i":1,"x":0,"y":2.2},{"s":"With 2.5% Li₃N","k":"c","i":2,"x":0.5,"y":2.6},{"s":"With 2.5% Li₃N","k":"c","i":3,"x":1,"y":3.0},{"s":"With 2.5% Li₃N","k":"c","i":4,"x":1.7,"y":3.27},{"s":"With 2.5% Li₃N","k":"c","i":5,"x":4,"y":3.37},{"s":"With 2.5% Li₃N","k":"c","i":6,"x":6,"y":3.43},{"s":"With 2.5% Li₃N","k":"c","i":7,"x":8,"y":3.46},{"s":"With 2.5% Li₃N","k":"c","i":8,"x":15,"y":3.47},{"s":"With 2.5% Li₃N","k":"c","i":9,"x":50,"y":3.475},{"s":"With 2.5% Li₃N","k":"c","i":10,"x":100,"y":3.48},{"s":"With 2.5% Li₃N","k":"c","i":11,"x":135,"y":3.5},{"s":"With 2.5% Li₃N","k":"c","i":12,"x":150,"y":3.52},{"s":"With 2.5% Li₃N","k":"c","i":13,"x":160,"y":3.55},{"s":"With 2.5% Li₃N","k":"c","i":14,"x":164,"y":3.6},{"s":"With 2.5% Li₃N","k":"c","i":15,"x":166,"y":3.66},{"s":"With 2.5% Li₃N","k":"c","i":16,"x":168,"y":3.78},{"s":"With 2.5% Li₃N","k":"c","i":17,"x":169,"y":3.87},{"s":"With 2.5% Li₃N","k":"c","i":18,"x":170,"y":4.0},{"s":"With 2.5% Li₃N","k":"c","i":19,"x":171,"y":4.19},{"s":"With 2.5% Li₃N","k":"c","i":20,"x":172,"y":4.15},{"s":"With 2.5% Li₃N","k":"c","i":21,"x":174,"y":4.1},{"s":"With 2.5% Li₃N","k":"c","i":22,"x":177.6,"y":4.07},{"s":"With 2.5% Li₃N","k":"c","i":23,"x":185,"y":4.06},{"s":"With 2.5% Li₃N","k":"c","i":24,"x":197.6,"y":4.065},{"s":"With 2.5% Li₃N","k":"c","i":25,"x":210,"y":4.08},{"s":"With 2.5% Li₃N","k":"c","i":26,"x":222.6,"y":4.12},{"s":"With 2.5% Li₃N","k":"c","i":27,"x":228,"y":4.15},{"s":"With 2.5% Li₃N","k":"c","i":28,"x":230,"y":4.17},{"s":"With 2.5% Li₃N","k":"c","i":29,"x":231,"y":4.32},{"s":"With 2.5% Li₃N","k":"c","i":30,"x":232.5,"y":4.5},
{"s":"With 2.5% Li₃N","k":"d","i":1,"x":0,"y":4.5},{"s":"With 2.5% Li₃N","k":"d","i":2,"x":0.5,"y":3.76},{"s":"With 2.5% Li₃N","k":"d","i":3,"x":1.7,"y":3.46},{"s":"With 2.5% Li₃N","k":"d","i":4,"x":4,"y":3.38},{"s":"With 2.5% Li₃N","k":"d","i":5,"x":10,"y":3.385},{"s":"With 2.5% Li₃N","k":"d","i":6,"x":50,"y":3.38},{"s":"With 2.5% Li₃N","k":"d","i":7,"x":98,"y":3.37},{"s":"With 2.5% Li₃N","k":"d","i":8,"x":123,"y":3.345},{"s":"With 2.5% Li₃N","k":"d","i":9,"x":138,"y":3.3},{"s":"With 2.5% Li₃N","k":"d","i":10,"x":141.5,"y":3.23},{"s":"With 2.5% Li₃N","k":"d","i":11,"x":145,"y":3.02},{"s":"With 2.5% Li₃N","k":"d","i":12,"x":149,"y":2.76},{"s":"With 2.5% Li₃N","k":"d","i":13,"x":151,"y":2.5}
 ]},
 "mark":{"type":"line","strokeWidth":2},
 "encoding":{
  "x":{"field":"x","type":"quantitative","scale":{"domain":[-25,275],"nice":false,"zero":false},
   "axis":{"title":"Capacity (mAh/g)","values":[0,25,50,75,100,125,150,175,200,225,250],"labelExpr":"datum.value % 50 === 0 ? datum.label : ''","tickSize":{"condition":{"test":"datum.value % 50 === 0","value":8},"value":5}}},
  "y":{"field":"y","type":"quantitative","scale":{"domain":[1.5,4.75],"nice":false,"zero":false},
   "axis":{"title":"Potential (V vs. Li/Li⁺)","titlePadding":21,"values":[1.5,1.75,2,2.25,2.5,2.75,3,3.25,3.5,3.75,4,4.25,4.5],"format":".1f","labelExpr":"abs(datum.value*2-round(datum.value*2)) < 0.01 ? datum.label : ''","tickSize":{"condition":{"test":"abs(datum.value*2-round(datum.value*2)) < 0.01","value":8},"value":5}}},
  "color":{"field":"s","type":"nominal","scale":{"domain":["Pristine LFP","With 2.5% Li₃N"],"range":["#000000","#ff0000"]},
   "legend":{"legendX":186,"legendY":234.5,"symbolType":"M-2,0L2,0","symbolSize":625,"symbolStrokeWidth":2,"symbolOffset":11.5,"labelOffset":17,"rowPadding":3.5}},
  "detail":{"field":"k"},
  "order":{"field":"i","type":"quantitative"}
 }
}
]
}
